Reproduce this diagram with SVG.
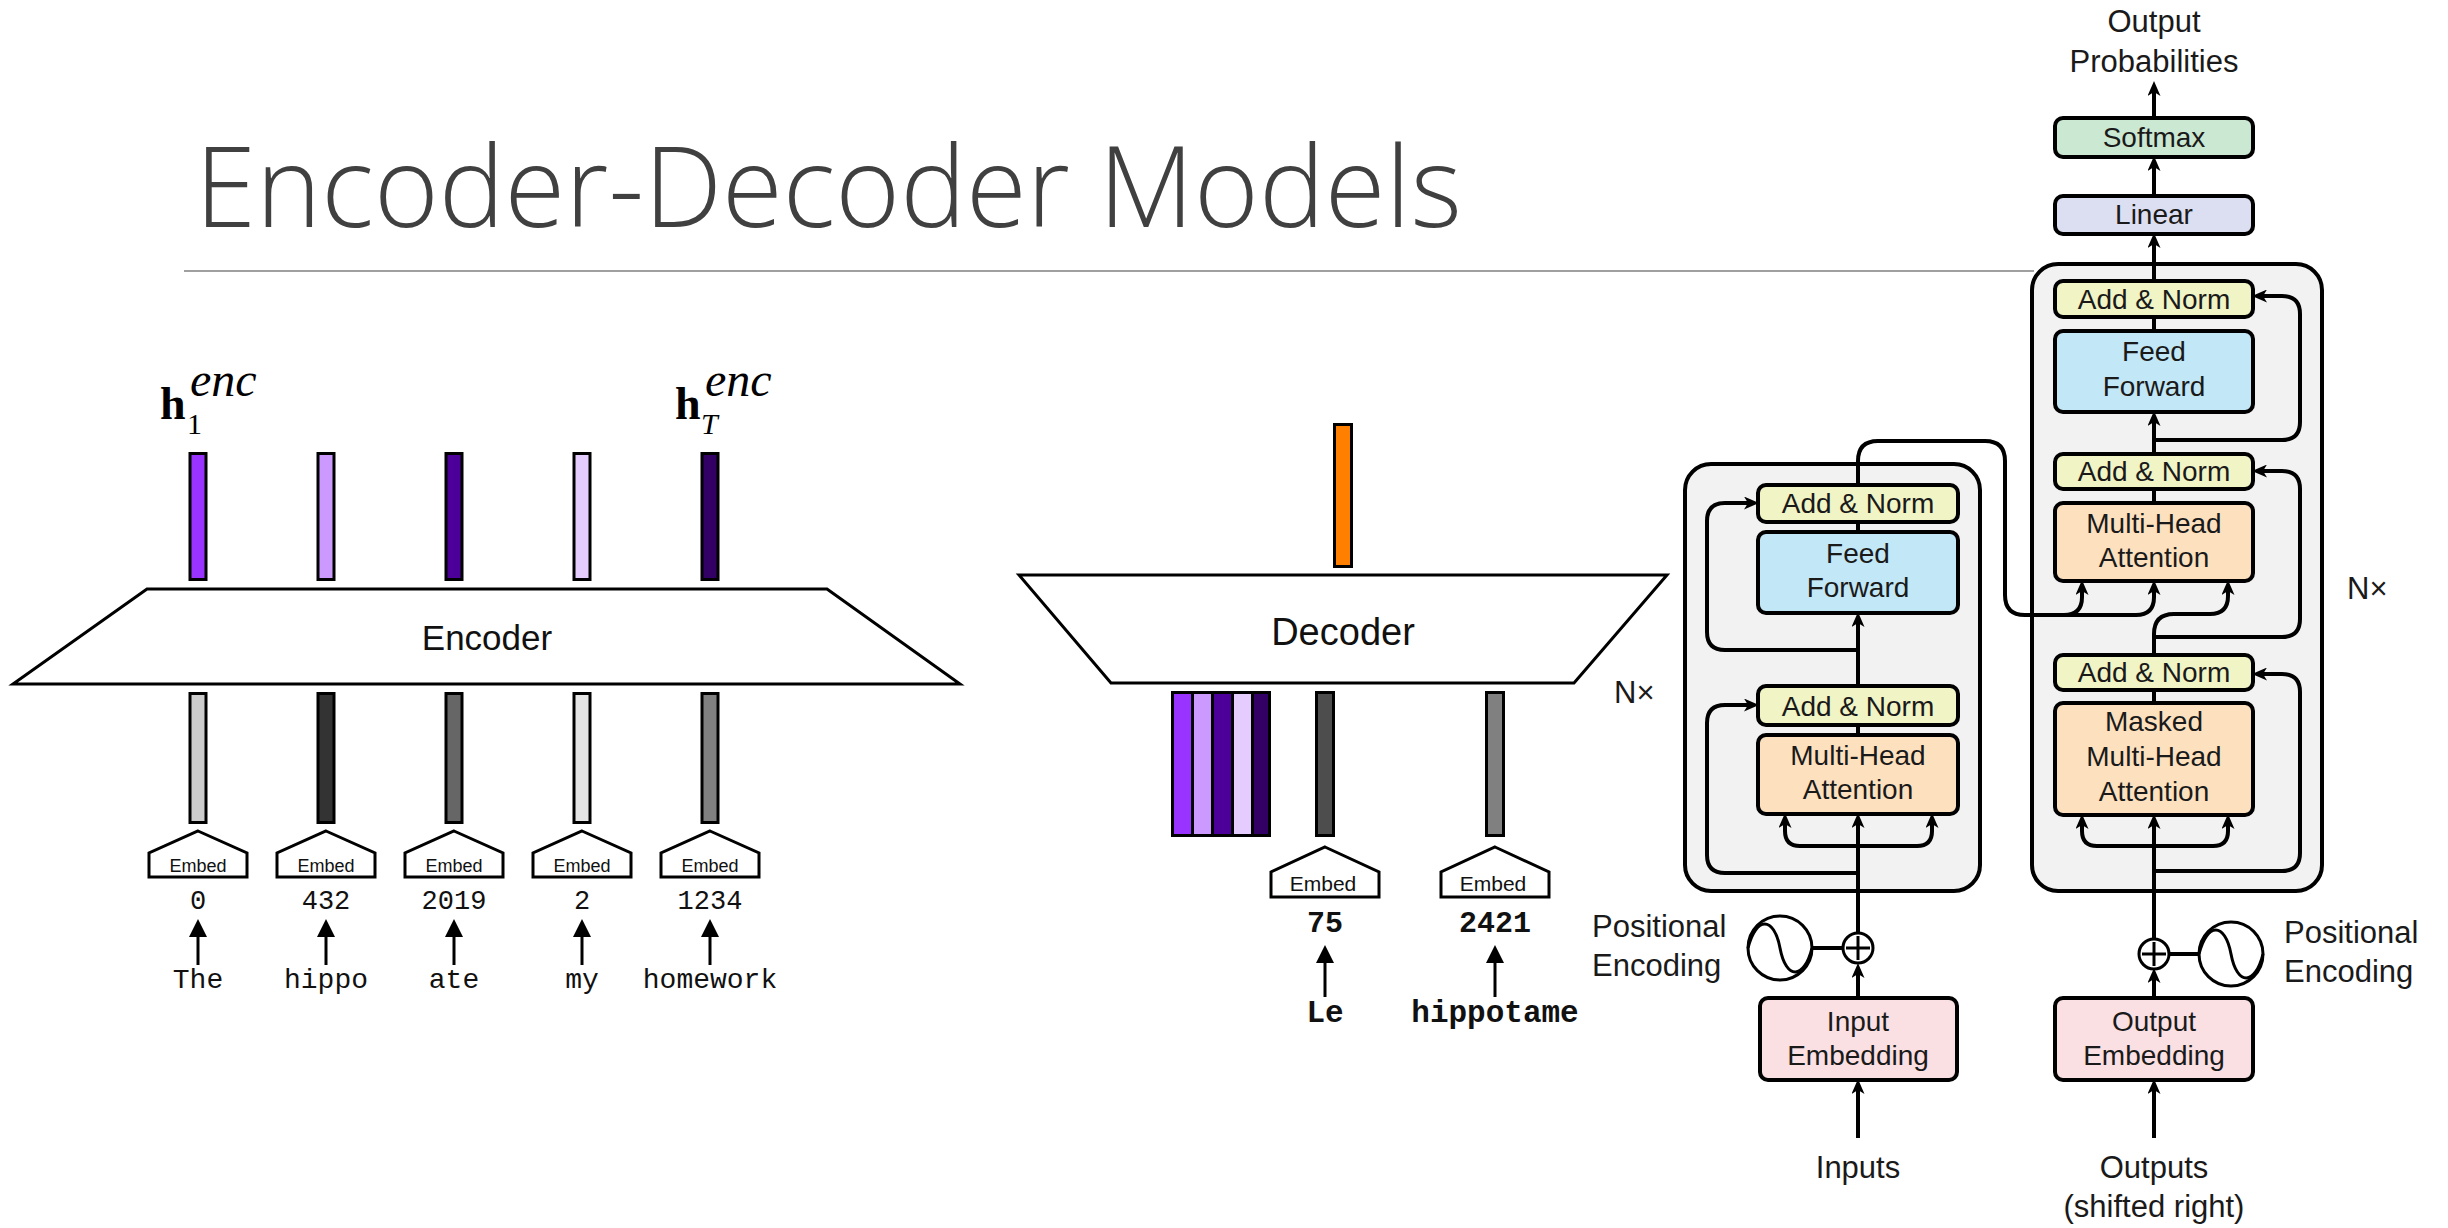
<svg xmlns="http://www.w3.org/2000/svg" width="2448" height="1228" viewBox="0 0 2448 1228">
  <defs>
    <style>
      .sans { font-family: "Liberation Sans", Arial, sans-serif; }
      .mono { font-family: "Liberation Mono", "Courier New", monospace; }
      .serif { font-family: "Liberation Serif", "Times New Roman", serif; }
      .title { font-family: "Open Sans", "Liberation Sans", sans-serif; font-weight: 300; font-size: 112px; fill: #404040; }
      .bar { stroke: #000; stroke-width: 3; }
      .trap { fill: #fff; stroke: #000; stroke-width: 3; stroke-linejoin: miter; }
      .house { fill: #fff; stroke: #000; stroke-width: 3; stroke-linejoin: miter; }
      .embed { font-size: 18px; text-anchor: middle; fill: #111; }
      .embed2 { font-size: 21px; text-anchor: middle; fill: #111; }
      .num { font-size: 27px; text-anchor: middle; fill: #111; }
      .word { font-size: 28px; text-anchor: middle; fill: #111; }
      .numb { font-size: 30px; font-weight: bold; text-anchor: middle; fill: #111; }
      .wordb { font-size: 31px; font-weight: bold; text-anchor: middle; fill: #111; }
      .tok { stroke: #000; stroke-width: 3; fill: none; marker-end: url(#tri); }
      .stack { fill: #f2f2f2; stroke: #000; stroke-width: 4; }
      .blk { stroke: #000; stroke-width: 4; }
      .an { fill: #f1f4c4; }
      .ff { fill: #c2e7f6; }
      .mha { fill: #fde1bf; }
      .emb { fill: #fbe0e3; }
      .lin { fill: #dcdff1; }
      .sm { fill: #cbe8d3; }
      .bt { font-size: 28px; text-anchor: middle; fill: #1a1a1a; }
      .ot { font-size: 31px; fill: #1a1a1a; }
      .wire { stroke: #000; stroke-width: 4; fill: none; stroke-linejoin: round; }
      .warr { marker-end: url(#head); }
      .ring { fill: #fff; stroke: #000; stroke-width: 3; }
    </style>
    <!-- solid triangle for the token arrows -->
    <marker id="tri" viewBox="0 0 18 18" refX="8" refY="9" markerWidth="18" markerHeight="18" markerUnits="userSpaceOnUse" orient="auto">
      <path d="M0,0 L18,9 L0,18 z" fill="#000"/>
    </marker>
    <!-- notched head for the transformer wiring -->
    <marker id="head" viewBox="0 0 15 13" refX="8" refY="6.5" markerWidth="15" markerHeight="13" markerUnits="userSpaceOnUse" orient="auto">
      <path d="M0,0 L15,6.5 L0,13 L4,6.5 z" fill="#000"/>
    </marker>
  </defs>

  <rect width="2448" height="1228" fill="#fff"/>

  <!-- heading -->
  <g id="heading">
    <text class="title" x="195" y="227" textLength="1267" lengthAdjust="spacingAndGlyphs">Encoder-Decoder Models</text>
    <line x1="184" y1="271" x2="2034" y2="271" stroke="#a0a0a0" stroke-width="2"/>
  </g>

  <!-- ============ encoder ============ -->
  <g id="encoder">
    <polygon class="trap" points="147,589 827,589 960,684 13,684"/>
    <text class="sans" x="487" y="650" font-size="35" text-anchor="middle" fill="#111">Encoder</text>
  </g>

  <!-- hidden-state labels: bold h, subscript index, italic superscript -->
  <g id="enc-labels">
    <text class="serif" x="160" y="419" fill="#000"><tspan font-weight="bold" font-size="46">h</tspan><tspan x="187" dy="15" font-size="30">1</tspan><tspan x="190" dy="-38" font-style="italic" font-size="48">enc</tspan></text>
    <text class="serif" x="675" y="419" fill="#000"><tspan font-weight="bold" font-size="46">h</tspan><tspan x="701" dy="15" font-style="italic" font-size="30">T</tspan><tspan x="705" dy="-38" font-style="italic" font-size="48">enc</tspan></text>
  </g>

  <g id="enc-states">
    <rect class="bar" x="190" y="453.5" width="16" height="126" fill="#9933ff"/>
    <rect class="bar" x="318" y="453.5" width="16" height="126" fill="#cc99ff"/>
    <rect class="bar" x="446" y="453.5" width="16" height="126" fill="#4c0099"/>
    <rect class="bar" x="574" y="453.5" width="16" height="126" fill="#e5ccff"/>
    <rect class="bar" x="702" y="453.5" width="16" height="126" fill="#330066"/>
  </g>

  <g id="enc-embeddings">
    <rect class="bar" x="190" y="693.5" width="16" height="129" fill="#cccccc"/>
    <rect class="bar" x="318" y="693.5" width="16" height="129" fill="#333333"/>
    <rect class="bar" x="446" y="693.5" width="16" height="129" fill="#666666"/>
    <rect class="bar" x="574" y="693.5" width="16" height="129" fill="#e5e5e5"/>
    <rect class="bar" x="702" y="693.5" width="16" height="129" fill="#808080"/>
  </g>

  <g id="enc-embed-1">
    <polygon class="house" points="198,831 247,853 247,877 149,877 149,853"/>
    <text class="sans embed" x="198" y="872">Embed</text>
  </g>
  <g id="enc-embed-2">
    <polygon class="house" points="326,831 375,853 375,877 277,877 277,853"/>
    <text class="sans embed" x="326" y="872">Embed</text>
  </g>
  <g id="enc-embed-3">
    <polygon class="house" points="454,831 503,853 503,877 405,877 405,853"/>
    <text class="sans embed" x="454" y="872">Embed</text>
  </g>
  <g id="enc-embed-4">
    <polygon class="house" points="582,831 631,853 631,877 533,877 533,853"/>
    <text class="sans embed" x="582" y="872">Embed</text>
  </g>
  <g id="enc-embed-5">
    <polygon class="house" points="710,831 759,853 759,877 661,877 661,853"/>
    <text class="sans embed" x="710" y="872">Embed</text>
  </g>

  <g id="enc-tokens">
    <text class="mono num" x="198" y="909">0</text>
    <text class="mono num" x="326" y="909">432</text>
    <text class="mono num" x="454" y="909">2019</text>
    <text class="mono num" x="582" y="909">2</text>
    <text class="mono num" x="710" y="909">1234</text>
    <text class="mono word" x="198" y="988">The</text>
    <text class="mono word" x="326" y="988">hippo</text>
    <text class="mono word" x="454" y="988">ate</text>
    <text class="mono word" x="582" y="988">my</text>
    <text class="mono word" x="710" y="988">homework</text>
  </g>

  <!-- ============ decoder ============ -->
  <g id="decoder">
    <polygon class="trap" points="1019,575 1667,575 1574,683 1111,683"/>
    <text class="sans" x="1343" y="645" font-size="38" text-anchor="middle" fill="#111">Decoder</text>
  </g>

  <g id="dec-output">
    <rect class="bar" x="1334.5" y="424.5" width="17" height="142" fill="#ff8000"/>
  </g>

  <g id="dec-context">
    <rect class="bar" x="1172.5" y="692.5" width="20" height="143" fill="#9933ff"/>
    <rect class="bar" x="1192.5" y="692.5" width="20" height="143" fill="#cc99ff"/>
    <rect class="bar" x="1212.5" y="692.5" width="20" height="143" fill="#4c0099"/>
    <rect class="bar" x="1232.5" y="692.5" width="20" height="143" fill="#e5ccff"/>
    <rect class="bar" x="1252.5" y="692.5" width="17" height="143" fill="#330066"/>
  </g>

  <g id="dec-embeddings">
    <rect class="bar" x="1316.5" y="692.5" width="17" height="143" fill="#4d4d4d"/>
    <rect class="bar" x="1486.5" y="692.5" width="17" height="143" fill="#808080"/>
  </g>

  <g id="dec-embed-1">
    <polygon class="house" points="1325,847 1379,872 1379,897 1271,897 1271,872"/>
    <text class="sans embed2" x="1323" y="891">Embed</text>
  </g>
  <g id="dec-embed-2">
    <polygon class="house" points="1495,847 1549,872 1549,897 1441,897 1441,872"/>
    <text class="sans embed2" x="1493" y="891">Embed</text>
  </g>

  <g id="dec-tokens">
    <text class="mono numb" x="1325" y="932">75</text>
    <text class="mono numb" x="1495" y="932">2421</text>
    <text class="mono wordb" x="1325" y="1022">Le</text>
    <text class="mono wordb" x="1495" y="1022">hippotame</text>
  </g>

  <!-- ============ transformer: encoder stack ============ -->
  <g id="tf-encoder-stack">
    <rect class="stack" x="1685" y="464" width="295" height="427" rx="26"/>
  </g>
  <g id="tf-enc-addnorm-top">
    <rect class="blk an" x="1758" y="485" width="200" height="37" rx="8"/>
    <text class="sans bt" x="1858" y="513">Add &amp; Norm</text>
  </g>
  <g id="tf-enc-ff">
    <rect class="blk ff" x="1758" y="532" width="200" height="81" rx="8"/>
    <text class="sans bt" x="1858" y="563">Feed</text>
    <text class="sans bt" x="1858" y="597">Forward</text>
  </g>
  <g id="tf-enc-addnorm-low">
    <rect class="blk an" x="1758" y="686" width="200" height="39" rx="8"/>
    <text class="sans bt" x="1858" y="716">Add &amp; Norm</text>
  </g>
  <g id="tf-enc-mha">
    <rect class="blk mha" x="1758" y="735" width="200" height="79" rx="8"/>
    <text class="sans bt" x="1858" y="765">Multi-Head</text>
    <text class="sans bt" x="1858" y="799">Attention</text>
  </g>
  <g id="tf-enc-nx">
    <text class="sans ot" x="1614" y="703" font-size="30">N×</text>
  </g>
  <g id="tf-input-embedding">
    <rect class="blk emb" x="1760" y="998" width="197" height="82" rx="8"/>
    <text class="sans bt" x="1858" y="1031">Input</text>
    <text class="sans bt" x="1858" y="1065">Embedding</text>
  </g>
  <g id="tf-enc-posenc">
    <circle class="ring" cx="1780" cy="948" r="32"/>
    <path d="M1748,948 C1756,916 1774,916 1780,948 C1786,980 1804,980 1812,948" fill="none" stroke="#000" stroke-width="3"/>
    <text class="sans ot" x="1592" y="937">Positional</text>
    <text class="sans ot" x="1592" y="976">Encoding</text>
  </g>
  <g id="tf-enc-add">
    <circle class="ring" cx="1858" cy="948" r="15"/>
    <path d="M1846,948 H1870 M1858,936 V960" stroke="#000" stroke-width="3"/>
  </g>
  <g id="tf-inputs">
    <text class="sans ot" x="1858" y="1178" text-anchor="middle">Inputs</text>
  </g>

  <!-- ============ transformer: decoder stack ============ -->
  <g id="tf-decoder-stack">
    <rect class="stack" x="2032" y="264" width="290" height="627" rx="26"/>
  </g>
  <g id="tf-dec-addnorm-top">
    <rect class="blk an" x="2055" y="281" width="198" height="36" rx="8"/>
    <text class="sans bt" x="2154" y="309">Add &amp; Norm</text>
  </g>
  <g id="tf-dec-ff">
    <rect class="blk ff" x="2055" y="331" width="198" height="81" rx="8"/>
    <text class="sans bt" x="2154" y="361">Feed</text>
    <text class="sans bt" x="2154" y="396">Forward</text>
  </g>
  <g id="tf-dec-addnorm-mid">
    <rect class="blk an" x="2055" y="454" width="198" height="35" rx="8"/>
    <text class="sans bt" x="2154" y="481">Add &amp; Norm</text>
  </g>
  <g id="tf-dec-mha">
    <rect class="blk mha" x="2055" y="503" width="198" height="78" rx="8"/>
    <text class="sans bt" x="2154" y="533">Multi-Head</text>
    <text class="sans bt" x="2154" y="567">Attention</text>
  </g>
  <g id="tf-dec-addnorm-low">
    <rect class="blk an" x="2055" y="655" width="198" height="35" rx="8"/>
    <text class="sans bt" x="2154" y="682">Add &amp; Norm</text>
  </g>
  <g id="tf-dec-masked-mha">
    <rect class="blk mha" x="2055" y="703" width="198" height="112" rx="8"/>
    <text class="sans bt" x="2154" y="731">Masked</text>
    <text class="sans bt" x="2154" y="766">Multi-Head</text>
    <text class="sans bt" x="2154" y="801">Attention</text>
  </g>
  <g id="tf-dec-nx">
    <text class="sans ot" x="2347" y="599" font-size="30">N×</text>
  </g>
  <g id="tf-linear">
    <rect class="blk lin" x="2055" y="196" width="198" height="38" rx="8"/>
    <text class="sans bt" x="2154" y="224">Linear</text>
  </g>
  <g id="tf-softmax">
    <rect class="blk sm" x="2055" y="118" width="198" height="39" rx="8"/>
    <text class="sans bt" x="2154" y="147">Softmax</text>
  </g>
  <g id="tf-output-probs">
    <text class="sans ot" x="2154" y="32" text-anchor="middle">Output</text>
    <text class="sans ot" x="2154" y="72" text-anchor="middle">Probabilities</text>
  </g>
  <g id="tf-output-embedding">
    <rect class="blk emb" x="2055" y="998" width="198" height="82" rx="8"/>
    <text class="sans bt" x="2154" y="1031">Output</text>
    <text class="sans bt" x="2154" y="1065">Embedding</text>
  </g>
  <g id="tf-dec-posenc">
    <circle class="ring" cx="2231" cy="954" r="32"/>
    <path d="M2199,954 C2207,922 2225,922 2231,954 C2237,986 2255,986 2263,954" fill="none" stroke="#000" stroke-width="3"/>
    <text class="sans ot" x="2284" y="943">Positional</text>
    <text class="sans ot" x="2284" y="982">Encoding</text>
  </g>
  <g id="tf-dec-add">
    <circle class="ring" cx="2154" cy="954" r="15"/>
    <path d="M2142,954 H2166 M2154,942 V966" stroke="#000" stroke-width="3"/>
  </g>
  <g id="tf-outputs">
    <text class="sans ot" x="2154" y="1178" text-anchor="middle">Outputs</text>
    <text class="sans ot" x="2154" y="1217" text-anchor="middle">(shifted right)</text>
  </g>

  <!-- ============ connectors ============ -->
  <g id="connectors">
    <!-- token ids into the embedding lookups -->
    <path class="tok" d="M198,965 V929"/>
    <path class="tok" d="M326,965 V929"/>
    <path class="tok" d="M454,965 V929"/>
    <path class="tok" d="M582,965 V929"/>
    <path class="tok" d="M710,965 V929"/>
    <path class="tok" d="M1325,997 V955"/>
    <path class="tok" d="M1495,997 V955"/>

    <!-- encoder stack wiring -->
    <path class="wire warr" d="M1858,1138 V1086"/>
    <path class="wire warr" d="M1858,998 V970"/>
    <path class="wire warr" d="M1858,933 V820"/>
    <path class="wire warr" d="M1858,846 H1800 Q1785,846 1785,831 V820"/>
    <path class="wire warr" d="M1858,846 H1917 Q1932,846 1932,831 V820"/>
    <path class="wire warr" d="M1858,873 H1725 Q1707,873 1707,855 V723 Q1707,705 1725,705 H1752"/>
    <path class="wire" d="M1858,735 V725"/>
    <path class="wire warr" d="M1858,686 V619"/>
    <path class="wire warr" d="M1858,650 H1725 Q1707,650 1707,632 V521 Q1707,503 1725,503 H1752"/>
    <path class="wire" d="M1858,532 V522"/>
    <path class="wire" d="M1812,948 H1843" stroke-width="5"/>

    <!-- encoder memory into the decoder cross-attention -->
    <path class="wire warr" d="M1858,485 V461 Q1858,441 1878,441 H1985 Q2005,441 2005,461 V595 Q2005,615 2025,615 H2064 Q2082,615 2082,597 V587"/>
    <path class="wire warr" d="M2064,615 H2136 Q2154,615 2154,597 V587"/>

    <!-- decoder stack wiring -->
    <path class="wire warr" d="M2154,1138 V1086"/>
    <path class="wire warr" d="M2154,998 V975"/>
    <path class="wire warr" d="M2154,939 V821"/>
    <path class="wire warr" d="M2154,846 H2097 Q2082,846 2082,831 V821"/>
    <path class="wire warr" d="M2154,846 H2213 Q2228,846 2228,831 V821"/>
    <path class="wire warr" d="M2154,871 H2282 Q2300,871 2300,853 V692 Q2300,674 2282,674 H2259"/>
    <path class="wire" d="M2154,703 V690"/>
    <path class="wire warr" d="M2154,655 V634 Q2154,614 2174,614 H2210 Q2228,614 2228,596 V587"/>
    <path class="wire warr" d="M2154,637 H2282 Q2300,637 2300,619 V489 Q2300,471 2282,471 H2259"/>
    <path class="wire" d="M2154,503 V489"/>
    <path class="wire warr" d="M2154,454 V418"/>
    <path class="wire warr" d="M2154,440 H2282 Q2300,440 2300,422 V314 Q2300,296 2282,296 H2259"/>
    <path class="wire" d="M2154,331 V317"/>
    <path class="wire warr" d="M2154,281 V240"/>
    <path class="wire warr" d="M2154,196 V163"/>
    <path class="wire warr" d="M2154,118 V88"/>
    <path class="wire" d="M2169,954 H2199" stroke-width="5"/>
  </g>
</svg>
